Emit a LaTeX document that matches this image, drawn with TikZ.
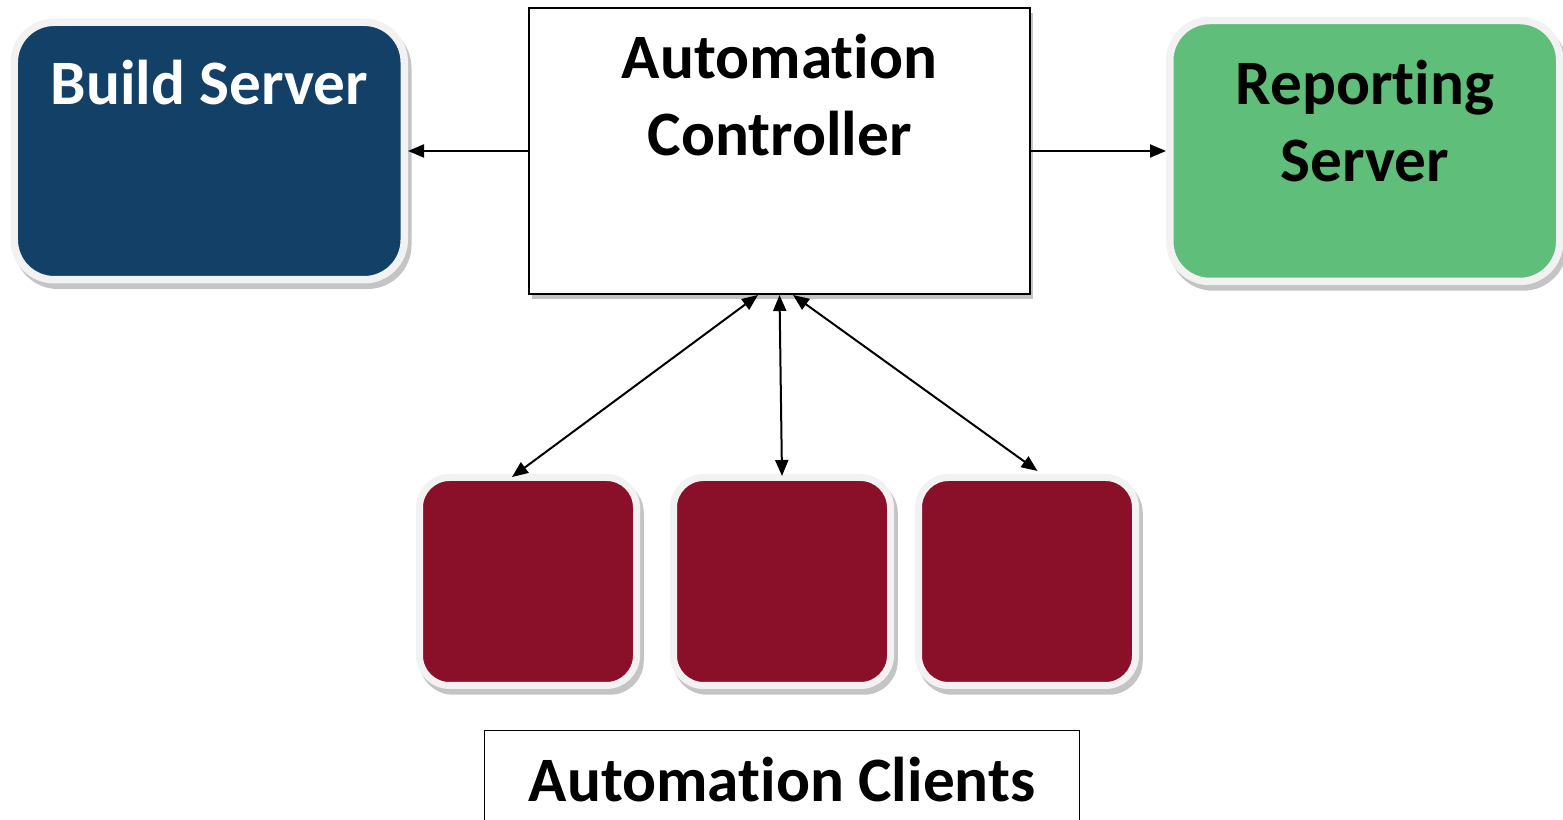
\documentclass[tikz,border=0pt]{standalone}
\usepackage{fontspec}
\setmainfont{Carlito}[Ligatures={NoCommon}]
\usetikzlibrary{arrows.meta,positioning,shadows}
\definecolor{buildblue}{RGB}{19,64,102}
\definecolor{reportgreen}{RGB}{94,190,122}
\definecolor{clientred}{RGB}{138,16,42}
\definecolor{rimgray}{RGB}{242,242,242}
\definecolor{shadegray}{RGB}{196,196,196}

\begin{document}
\begin{tikzpicture}[
    node distance=5mm,
    server/.style={rectangle, rounded corners=0.8cm, draw=rimgray, line width=0.15cm,
                   minimum width=7.8cm, minimum height=5.15cm, inner sep=0pt,
                   drop shadow={shadow xshift=0.07cm, shadow yshift=-0.11cm, opacity=1,
                                fill=shadegray, draw=shadegray, line width=0.15cm}},
    client/.style={server, rounded corners=0.6cm, line width=0.14cm, fill=clientred,
                   minimum width=4.34cm, minimum height=4.16cm},
    ctrlbox/.style={rectangle, draw=black, line width=0.04cm, fill=white, inner sep=0pt,
                    minimum width=10.02cm, minimum height=5.72cm,
                    drop shadow={shadow xshift=0.06cm, shadow yshift=-0.1cm, opacity=1, fill=shadegray}},
    tagbox/.style={rectangle, draw=black, line width=0.03cm, fill=white, inner sep=0pt,
                   minimum width=11.9cm, minimum height=2.4cm},
    title/.style={font=\bfseries\fontsize{36pt}{44pt}\selectfont, align=center, inner sep=0pt, anchor=base},
    link/.style={-{Triangle[length=3.2mm, width=2.6mm]}, line width=0.04cm},
    duplex/.style={{Triangle[length=3.2mm, width=2.6mm]}-{Triangle[length=3.2mm, width=2.6mm]}, line width=0.04cm}
]
\clip (0,0) rectangle (31.26,16.4);

\node[ctrlbox] (ctrl) at (15.59,13.38) {};
\node[server, fill=buildblue, left=2.4cm of ctrl] (build) {};
\node[server, fill=reportgreen, minimum height=5.22cm, right=2.7cm of ctrl] (report) {};
\node[client, below=3.58cm of ctrl, xshift=0.05cm] (clientb) {};
\node[client, left=0.6cm of clientb] (clienta) {};
\node[client, right=0.42cm of clientb] (clientc) {};
\node[tagbox, below=0.82cm of clientb] (clients) {};

\node[title] (ctrlname) at ([yshift=-2.98cm]ctrl.north) {Automation\\Controller};
\node[title, text=white] (buildname) at ([yshift=-1.72cm]build.north) {Build Server};
\node[title] (reportname) at ([yshift=-3.3cm]report.north) {Reporting\\Server};
\node[title] (clientsname) at ([yshift=-1.44cm]clients.north) {Automation Clients};

\draw[link] (ctrl.west) -- (build.east);
\draw[link] (ctrl.east) -- (report.west);
\draw[duplex] ([xshift=-4.3mm]ctrl.south) -- ([xshift=-3.2mm, yshift=-0.6mm]clienta.north);
\draw[duplex] (ctrl.south) -- ([yshift=-0.4mm]clientb.north);
\draw[duplex] ([xshift=2.7mm]ctrl.south) -- ([xshift=2.1mm, yshift=0.6mm]clientc.north);
\end{tikzpicture}
\end{document}
